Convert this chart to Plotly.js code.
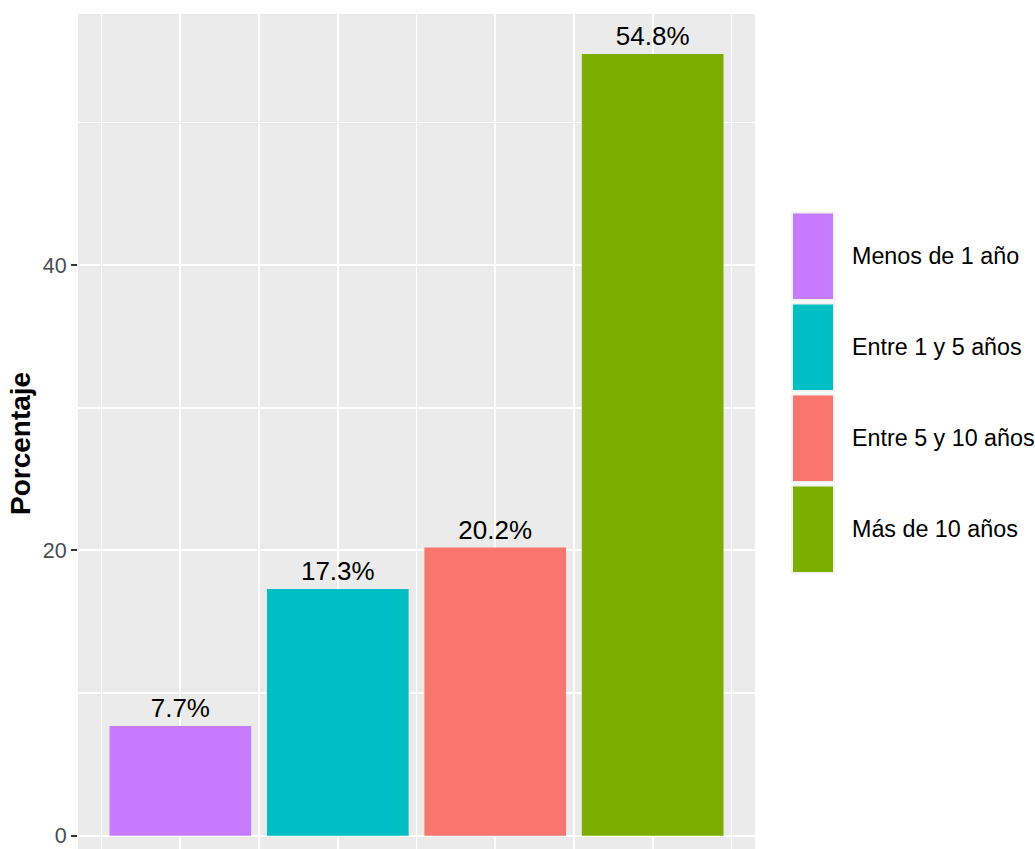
<!DOCTYPE html>
<html>
<head>
<meta charset="utf-8">
<script src="https://cdn.plot.ly/plotly-3.0.1.min.js"></script>
<style>html,body{margin:0;padding:0;background:#fff;}#chart{width:1035px;height:849px;}</style>
</head>
<body>
<div id="chart"></div>
<script>
// ---- data ----
const categories = ["Menos de 1 año", "Entre 1 y 5 años", "Entre 5 y 10 años", "Más de 10 años"];
const positions = [1, 2, 3, 4];
const values = [7.7, 17.3, 20.2, 54.8];
const colors = ["#C77CFF", "#00BFC4", "#F8766D", "#7CAE00"];
const yTicks = [0, 20, 40];
const yMinor = [10, 30, 50];
const xMinor = [0.5, 1.5, 2.5, 3.5, 4.5];
const yTitle = "Porcentaje";

// ---- layout constants ----
const W = 1035, H = 849;
const M = {l: 78, r: 280, t: 14, b: 0};
const PW = W - M.l - M.r, PH = H - M.t - M.b;
const FONT = "Liberation Sans, Arial, Helvetica, sans-serif";
const px2x = p => (p - M.l) / PW;
const px2y = p => (H - M.b - p) / PH;

const trace = {
  type: "bar",
  x: positions,
  y: values,
  width: 0.9,
  marker: {color: colors, line: {width: 0}},
  text: values.map(v => v.toFixed(1) + "%"),
  textposition: "outside",
  textfont: {family: FONT, size: 26, color: "#000000"},
  cliponaxis: false,
  hoverinfo: "skip",
  showlegend: false
};

// legend drawn as keys + labels
const shapes = [];
const annotations = [];
const keyX0 = 792, keyX1 = 834, keyTop = 212.5, keyH = 87.5, keyStep = 91;
categories.forEach((c, i) => {
  const y0 = keyTop + i * keyStep, y1 = y0 + keyH;
  shapes.push({
    type: "rect", xref: "paper", yref: "paper",
    x0: px2x(keyX0), x1: px2x(keyX1), y0: px2y(y1), y1: px2y(y0),
    fillcolor: colors[i], line: {color: "#F2F2F2", width: 2}
  });
  annotations.push({
    xref: "paper", yref: "paper", x: px2x(850), y: px2y((y0 + y1) / 2),
    xanchor: "left", yanchor: "middle", showarrow: false,
    text: c, font: {family: FONT, size: 23.3, color: "#000000"}
  });
});

// y-axis title (centred on the full ggplot panel, which extends below the crop)
annotations.push({
  xref: "paper", yref: "paper", x: px2x(20), y: px2y(444),
  xanchor: "center", yanchor: "middle", showarrow: false, textangle: -90,
  text: yTitle, font: {family: FONT, size: 28, color: "#000000", weight: "bold"}
});

const layout = {
  width: W, height: H,
  margin: M,
  paper_bgcolor: "#FFFFFF",
  plot_bgcolor: "#EBEBEB",
  font: {family: FONT},
  showlegend: false,
  xaxis: {
    range: [0.35, 4.65],
    tickvals: positions,
    showticklabels: false,
    ticks: "",
    showgrid: true, gridcolor: "#FFFFFF", gridwidth: 2,
    minor: {tickvals: xMinor, showgrid: true, gridcolor: "#FFFFFF", gridwidth: 1.6, ticks: ""},
    zeroline: false, showline: false, fixedrange: true
  },
  yaxis: {
    range: [-0.93, 57.6],
    tickvals: yTicks,
    ticks: "outside", ticklen: 6, tickwidth: 2, tickcolor: "#333333",
    tickfont: {family: FONT, size: 21.5, color: "#4D4D4D"},
    showgrid: true, gridcolor: "#FFFFFF", gridwidth: 2,
    minor: {tickvals: yMinor, showgrid: true, gridcolor: "#FFFFFF", gridwidth: 1.6, ticks: ""},
    zeroline: false, showline: false, fixedrange: true
  },
  shapes: shapes,
  annotations: annotations
};

Plotly.newPlot("chart", [trace], layout, {displayModeBar: false, staticPlot: true});
</script>
</body>
</html>
